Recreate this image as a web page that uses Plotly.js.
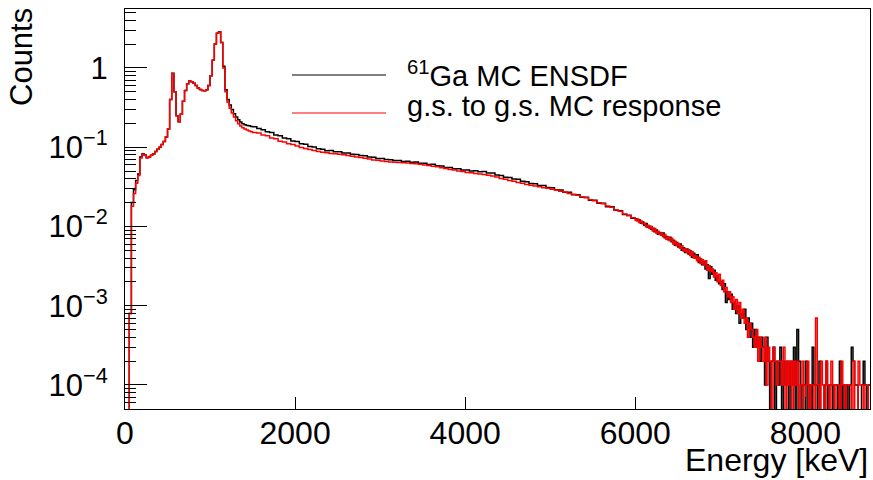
<!DOCTYPE html>
<html><head><meta charset="utf-8">
<script src="https://cdn.plot.ly/plotly-3.0.1.min.js"></script>
<style>html,body{margin:0;padding:0;background:#fff;} #chart{width:873px;height:480px;}</style>
</head><body><div id="chart"></div>
<script>
// Histogram binning (keV): three segments with fixed bin widths
const lowStart = 0,     lowWidth = 25;   // 0 - 1500 keV
const midStart = 1500,  midWidth = 50;   // 1500 - 6000 keV
const tailStart = 6000, tailWidth = 20;  // 6000 - 8760 keV

// 61Ga MC ENSDF (black)
const ensdfLow = [0,0,0.0008,0.02,0.029,0.038,0.046,0.075,0.083,0.08,
  0.074,0.075,0.079,0.082,0.088,0.094,0.1,0.108,0.118,0.135,
  0.17,0.4,0.86,0.5,0.25,0.21,0.26,0.38,0.52,0.63,
  0.685,0.67,0.64,0.6,0.56,0.535,0.52,0.515,0.53,0.6,
  0.8,1.25,2.0,2.75,2.87,2.1,1.05,0.53,0.4,0.34,
  0.3,0.265,0.24,0.222,0.208,0.198,0.192,0.188,0.186,0.182];
const ensdfMid = [0.181,0.172,0.166,0.157,0.153,0.143,0.140,0.131,0.128,0.120,
  0.118,0.111,0.109,0.102,0.101,0.0955,0.0940,0.0905,0.0908,0.0879,
  0.0876,0.0848,0.0846,0.0815,0.0810,0.0788,0.0781,0.0752,0.0747,0.0722,
  0.0720,0.0699,0.0697,0.0678,0.0681,0.0662,0.0665,0.0647,0.0651,0.0629,
  0.0628,0.0607,0.0608,0.0583,0.0580,0.0556,0.0554,0.0534,0.0536,0.0516,
  0.0517,0.0502,0.0506,0.0489,0.0494,0.0473,0.0472,0.0447,0.0441,0.0419,
  0.0416,0.0396,0.0393,0.0371,0.0367,0.0348,0.0347,0.0328,0.0328,0.0310,
  0.0309,0.0290,0.0289,0.0270,0.0270,0.0252,0.0251,0.0234,0.0233,0.0215,
  0.0214,0.0197,0.0196,0.0178,0.0177,0.0160,0.0158,0.0142,0.0139,0.0127];
const ensdfTail = [0.0125,0.0118,0.0121,0.0110,0.0114, 0.0104,0.0109,0.0098,0.0101,0.0092,
  0.0095,0.0086,0.0090,0.0080,0.0084, 0.0078,0.0083,0.0072,0.0075,0.0068,
  0.0073,0.0064,0.0067,0.0058,0.0063, 0.0055,0.0060,0.0050,0.0054,0.0047,
  0.0052,0.0045,0.0049,0.0041,0.0046, 0.0040,0.0044,0.0035,0.0039,0.0033,
  0.0036,0.0029,0.0033,0.0022,0.0031, 0.0025,0.0028,0.0021,0.0024,0.0019,
  0.0020,0.0016,0.0019,0.0011,0.0015, 0.0012,0.0014,0.0009,0.0011,0.0008,
  0.0010,0.0006,0.0008,0.0007,0.0009, 0.0005,0.0007,0.0004,0.0006,0.0003,
  0.0005,0.0003,0.0004,0.0002,0.0004, 0.0003,0.0001,0.0004,0.0002,0,
  0.0002,0.0003,0,0.0002,0.0001, 0.0003,0,0.0002,0.0001,0.0002,
  0,0.0002,0.0001,0.0003,0, 0.0005,0.0002,0,0.0001,0.0001,
  0.0002,0,0.0001,0,0.0003, 0.0001,0.0001,0,0.0002,0,
  0,0.0001,0.0002,0,0.0001, 0.0001,0,0.0001,0.0001,0,
  0.0002,0,0.0001,0,0.0001, 0,0.0001,0.0003,0.0002,0.0001,
  0.0001,0,0,0.0001,0.0002, 0.0001,0,0.0001];

// g.s. to g.s. MC response (red)
const gsLow = [0,0,0.0008,0.018,0.026,0.035,0.044,0.073,0.082,0.079,
  0.073,0.075,0.079,0.082,0.088,0.094,0.1,0.108,0.118,0.135,
  0.17,0.4,0.85,0.5,0.25,0.21,0.26,0.38,0.52,0.63,
  0.68,0.67,0.64,0.6,0.56,0.535,0.52,0.515,0.53,0.6,
  0.8,1.25,2.0,2.75,2.85,2.1,1.0,0.5,0.37,0.31,
  0.27,0.24,0.215,0.198,0.185,0.176,0.17,0.165,0.16,0.157];
const gsMid = [0.153,0.151,0.143,0.140,0.131,0.128,0.119,0.116,0.111,0.108,
  0.1035,0.0995,0.0966,0.0935,0.0912,0.0885,0.0861,0.0849,0.0836,0.0825,
  0.0813,0.0802,0.0785,0.0771,0.0750,0.0744,0.0724,0.0711,0.0692,0.0683,
  0.0671,0.0662,0.0652,0.0647,0.0641,0.0635,0.0631,0.0624,0.0617,0.0609,
  0.0596,0.0589,0.0575,0.0565,0.0550,0.0540,0.0525,0.0516,0.0501,0.0494,
  0.0481,0.0476,0.0465,0.0460,0.0452,0.0444,0.0432,0.0420,0.0403,0.0394,
  0.0380,0.0372,0.0359,0.0350,0.0339,0.0332,0.0324,0.0318,0.0309,0.0303,
  0.0295,0.0289,0.0279,0.0272,0.0261,0.0255,0.0247,0.0236,0.0230,0.0218,
  0.0211,0.0199,0.0194,0.0181,0.0175,0.0161,0.0156,0.0144,0.0137,0.0129];
const gsTail = [0.0119,0.0124,0.0112,0.0117,0.0108, 0.0110,0.0099,0.0104,0.0095,0.0100,
  0.0088,0.0094,0.0083,0.0087,0.0079, 0.0082,0.0074,0.0079,0.0069,0.0073,
  0.0066,0.0071,0.0060,0.0065,0.0057, 0.0061,0.0053,0.0057,0.0049,0.0052,
  0.0047,0.0051,0.0043,0.0048,0.0040, 0.0043,0.0037,0.0041,0.0034,0.0038,
  0.0033,0.0037,0.0028,0.0032,0.0027, 0.0029,0.0023,0.0026,0.0020,0.0025,
  0.0018,0.0021,0.0015,0.0017,0.0013, 0.0015,0.0011,0.0013,0.0009,0.0012,
  0.0008,0.0011,0.0007,0.0009,0.0006, 0.0007,0.0004,0.0006,0.0005,0.0004,
  0.0003,0.0005,0.0002,0.0004,0.0003, 0.0002,0.0004,0.0001,0.0003,0.0002,
  0,0.0003,0.0002,0.0001,0.0002, 0.0002,0.0001,0.0003,0,0.0002,
  0.0001,0.0002,0,0.0002,0.0001, 0.0002,0,0.0001,0.0002,0,
  0.0001,0.0002,0,0.0001,0.0001, 0,0.0007,0.0001,0,0.0002,
  0.0001,0,0.0002,0.0001,0, 0.0002,0.0001,0,0.0001,0.0001,
  0,0.0002,0.0001,0,0.0001, 0.0001,0.0001,0,0.0002,0,
  0,0.0002,0.0001,0.0001,0, 0.0001,0.0001,0];

const seriesNames = ['<sup>61</sup>Ga MC ENSDF', 'g.s. to g.s. MC response'];
const seriesColors = ['#000000', '#ff0000'];
const xTickVals = [0, 2000, 4000, 6000, 8000];
const xTickText = ['0', '2000', '4000', '6000', '8000'];
const yTickVals = [1, 0.1, 0.01, 0.001, 0.0001];
const yTickText = ['1', '10<sup>\u22121</sup>', '10<sup>\u22122</sup>', '10<sup>\u22123</sup>', '10<sup>\u22124</sup>'];

// Empty bins are drawn down to the frame bottom, like ROOT on a log axis
const EMPTY_BIN_DRAW = 1e-7;

function histSteps(segments) {
  const x = [], y = [];
  let lastEdge = 0, lastVal = 0;
  segments.forEach(([start, width, vals]) => {
    vals.forEach((v, i) => { x.push(start + i * width); y.push(v > 0 ? v : EMPTY_BIN_DRAW); });
    lastEdge = start + vals.length * width;
    lastVal = vals[vals.length - 1];
  });
  x.push(lastEdge); y.push(lastVal > 0 ? lastVal : EMPTY_BIN_DRAW);
  return {x, y};
}

const h1 = histSteps([[lowStart, lowWidth, ensdfLow], [midStart, midWidth, ensdfMid], [tailStart, tailWidth, ensdfTail]]);
const h2 = histSteps([[lowStart, lowWidth, gsLow], [midStart, midWidth, gsMid], [tailStart, tailWidth, gsTail]]);

const FONT = 'Liberation Sans, Arial, Helvetica, sans-serif';

const traces = [
  {x: h1.x, y: h1.y, type: 'scatter', mode: 'lines', line: {shape: 'hv', color: seriesColors[0], width: 1.5}, name: seriesNames[0], showlegend: false, hoverinfo: 'skip'},
  {x: h2.x, y: h2.y, type: 'scatter', mode: 'lines', line: {shape: 'hv', color: seriesColors[1], width: 1.5}, name: seriesNames[1], showlegend: false, hoverinfo: 'skip'}
];

// minor log ticks (2..9 per decade)
const minorVals = [];
for (let k = -5; k <= 1; k++) for (let m = 2; m <= 9; m++) minorVals.push(m * Math.pow(10, k));

const L = 125, R = 3, T = 9, B = 71, W = 873, H = 480;
const pw = W - L - R, ph = H - T - B;
const px = v => (v - L) / pw;
const py = v => (H - B - v) / ph;

const layout = {
  width: W, height: H,
  margin: {l: L, r: R, t: T, b: B, pad: 0},
  paper_bgcolor: '#ffffff', plot_bgcolor: '#ffffff',
  font: {family: FONT, color: '#000', size: 31},
  showlegend: false,
  xaxis: {
    range: [0, 8760], showgrid: false, zeroline: false,
    showline: true, mirror: true, linecolor: '#000', linewidth: 1,
    ticks: 'inside', ticklen: 12, tickwidth: 1, tickcolor: '#000',
    tickmode: 'array', tickvals: xTickVals, ticktext: xTickText,
    ticklabelstandoff: -4,
    tickfont: {family: FONT, size: 32, color: '#000'}
  },
  yaxis: {
    type: 'log', range: [-4.303, 0.744], showgrid: false, zeroline: false,
    showline: true, mirror: true, linecolor: '#000', linewidth: 1,
    ticks: 'inside', ticklen: 22, tickwidth: 1, tickcolor: '#000',
    tickmode: 'array', tickvals: yTickVals, ticktext: yTickText,
    ticklabelstandoff: 10,
    tickfont: {family: FONT, size: 31, color: '#000'},
    minor: {ticks: 'inside', ticklen: 11, tickwidth: 1, tickcolor: '#000', tickmode: 'array', tickvals: minorVals, showgrid: false}
  },
  shapes: [
    {type: 'line', xref: 'paper', yref: 'paper', x0: px(292), x1: px(386), y0: py(75), y1: py(75), line: {color: seriesColors[0], width: 1.2}},
    {type: 'line', xref: 'paper', yref: 'paper', x0: px(292), x1: px(386), y0: py(113), y1: py(113), line: {color: seriesColors[1], width: 1.2}}
  ],
  annotations: [
    {xref: 'paper', yref: 'paper', x: px(405), y: py(74), xanchor: 'left', yanchor: 'middle', text: seriesNames[0], showarrow: false, font: {family: FONT, size: 29, color: '#000'}},
    {xref: 'paper', yref: 'paper', x: px(405), y: py(106), xanchor: 'left', yanchor: 'middle', text: seriesNames[1], showarrow: false, font: {family: FONT, size: 29, color: '#000'}},
    {xref: 'paper', yref: 'paper', x: 1, y: py(440), xanchor: 'right', yanchor: 'top', text: 'Energy [keV]', showarrow: false, font: {family: FONT, size: 32, color: '#000'}},
    {xref: 'paper', yref: 'paper', x: px(22), y: py(6), xanchor: 'center', yanchor: 'top', textangle: -90, text: 'Counts', showarrow: false, font: {family: FONT, size: 31, color: '#000'}}
  ]
};

Plotly.newPlot('chart', traces, layout, {staticPlot: true, displayModeBar: false});
</script>
</body></html>
